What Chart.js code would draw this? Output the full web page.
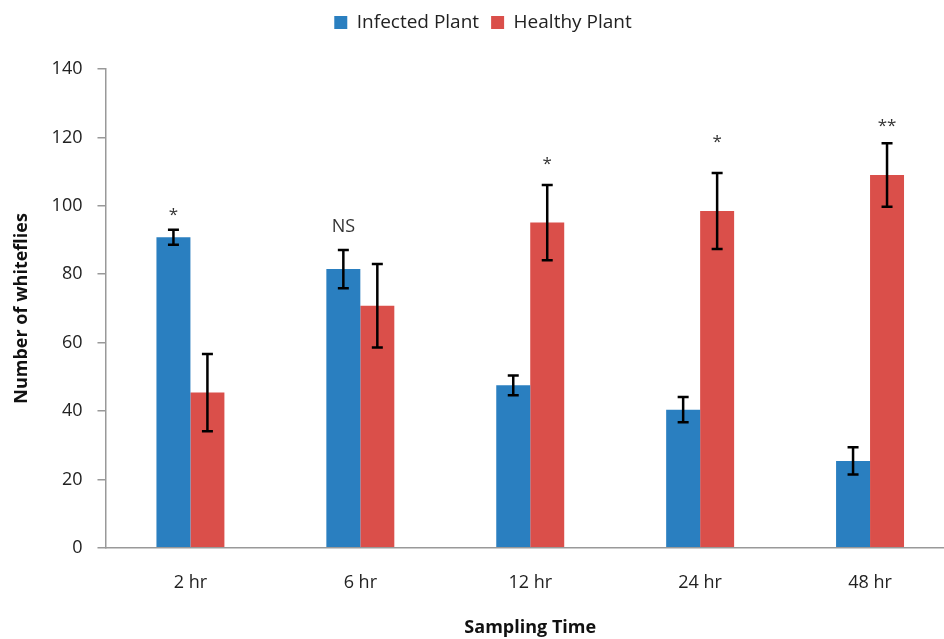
<!DOCTYPE html>
<html>
<head>
<meta charset="utf-8">
<script src="https://cdn.jsdelivr.net/npm/chart.js@4"></script>
<style>
  html, body { margin: 0; padding: 0; background: #fff; overflow: hidden; }
  #wrap { width: 955px; height: 639px; }
</style>
</head>
<body>
<div id="wrap"><canvas id="c" width="955" height="639"></canvas></div>
<script>
// ---- data ----
const categories = ['2 hr', '6 hr', '12 hr', '24 hr', '48 hr'];
const infectedValues = [90.8, 81.5, 47.5, 40.4, 25.4];
const infectedErrors = [2.2, 5.6, 2.9, 3.7, 4.0];
const healthyValues = [45.4, 70.8, 95.1, 98.5, 109.0];
const healthyErrors = [11.3, 12.2, 11.0, 11.1, 9.3];
const significanceLabels = ['*', 'NS', '*', '*', '**'];
const significanceSeries = [0, 0, 1, 1, 1];
const significanceLevels = [98.3, 93.9, 113.2, 119.9, 124.5];
const yTicks = [0, 20, 40, 60, 80, 100, 120, 140];

const FONT = "'Open Sans', 'DejaVu Sans', sans-serif";

const errorBarPlugin = {
  id: 'errorBars',
  afterDatasetsDraw(chart) {
    const ctx = chart.ctx;
    const y = chart.scales.y;
    ctx.save();
    ctx.strokeStyle = '#000';
    ctx.lineWidth = 2.5;
    chart.data.datasets.forEach((ds, di) => {
      const meta = chart.getDatasetMeta(di);
      meta.data.forEach((bar, i) => {
        const v = ds.data[i], e = ds.errors[i];
        const yt = y.getPixelForValue(v + e);
        const yb = y.getPixelForValue(v - e);
        const x = bar.x, hw = 5.5;
        ctx.beginPath();
        ctx.moveTo(x, yt); ctx.lineTo(x, yb);
        ctx.moveTo(x - hw, yt); ctx.lineTo(x + hw, yt);
        ctx.moveTo(x - hw, yb); ctx.lineTo(x + hw, yb);
        ctx.stroke();
      });
    });
    ctx.restore();
  }
};

const sigPlugin = {
  id: 'significance',
  afterDatasetsDraw(chart) {
    const ctx = chart.ctx;
    const y = chart.scales.y;
    ctx.save();
    ctx.textAlign = 'center';
    ctx.textBaseline = 'middle';
    ctx.fillStyle = '#333';
    significanceLabels.forEach((t, i) => {
      const bar = chart.getDatasetMeta(significanceSeries[i]).data[i];
      const isNS = t === 'NS';
      ctx.font = (isNS ? '18px ' : '17px ') + FONT;
      const dy = isNS ? 0 : 4;
      ctx.fillText(t, bar.x, y.getPixelForValue(significanceLevels[i]) + dy);
    });
    ctx.restore();
  }
};

const legendSpacing = {
  id: 'legendSpacing',
  beforeInit(chart) {
    const orig = chart.legend.fit;
    chart.legend.fit = function () {
      orig.bind(chart.legend)();
      this.height += 27;
    };
  }
};

new Chart(document.getElementById('c'), {
  type: 'bar',
  data: {
    labels: categories,
    datasets: [
      { label: 'Infected Plant', data: infectedValues, errors: infectedErrors,
        backgroundColor: '#2A7FC0', borderWidth: 0,
        categoryPercentage: 0.4, barPercentage: 1.0 },
      { label: 'Healthy Plant', data: healthyValues, errors: healthyErrors,
        backgroundColor: '#DA4F4A', borderWidth: 0,
        categoryPercentage: 0.4, barPercentage: 1.0 }
    ]
  },
  options: {
    responsive: false,
    animation: false,
    devicePixelRatio: 1,
    layout: { padding: { top: 1, left: 11, right: 0, bottom: 0 } },
    plugins: {
      legend: {
        position: 'top',
        labels: {
          boxWidth: 13, boxHeight: 13, padding: 12,
          color: '#222', font: { family: FONT, size: 19 }
        }
      },
      tooltip: { enabled: false }
    },
    scales: {
      x: {
        grid: { display: false, drawTicks: false },
        border: { display: true, color: '#999', width: 1.5 },
        ticks: { color: '#222', padding: 24, font: { family: FONT, size: 18 } },
        title: { display: true, text: 'Sampling Time', color: '#111',
                 font: { family: FONT, size: 18, weight: 'bold' },
                 padding: { top: 0, bottom: 0 } }
      },
      y: {
        min: 0, max: 140,
        afterBuildTicks(scale) { scale.ticks = yTicks.map(v => ({ value: v })); },
        grid: { display: true, drawOnChartArea: false, drawTicks: true, tickLength: 8, color: '#999', lineWidth: 1.5 },
        border: { display: true, color: '#999', width: 1.5 },
        ticks: { color: '#222', padding: 15, font: { family: FONT, size: 18 } },
        title: { display: true, text: 'Number of whiteflies', color: '#111',
                 font: { family: FONT, size: 18, weight: 'bold' },
                 padding: { top: 0, bottom: 4 } }
      }
    }
  },
  plugins: [errorBarPlugin, sigPlugin, legendSpacing]
});
</script>
</body>
</html>
